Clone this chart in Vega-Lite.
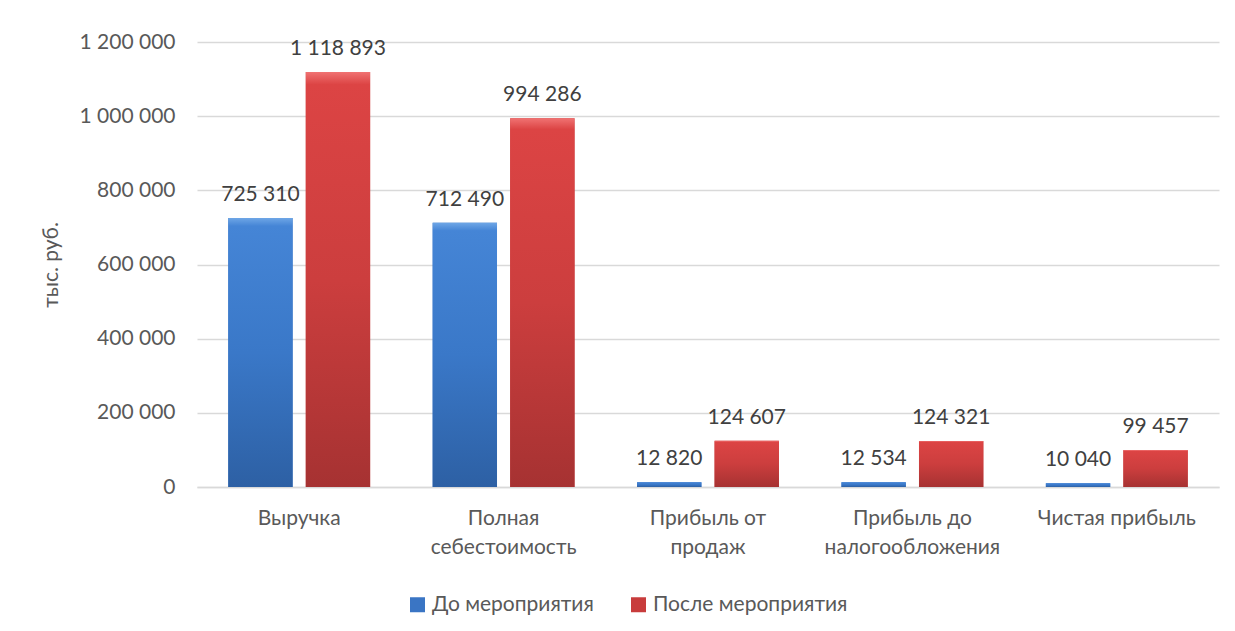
{
  "$schema": "https://vega.github.io/schema/vega-lite/v6.json",
  "width": 1022,
  "height": 445,
  "autosize": {"type": "none"},
  "padding": {"left": 197, "top": 42, "right": 16, "bottom": 144},
  "background": "#ffffff",
  "config": {
    "locale": {"number": {"decimal": ",", "thousands": " ", "grouping": [3], "currency": ["", ""]}},
    "font": "Lato",
    "view": {"stroke": null},
    "axis": {"labelFont": "Lato", "titleFont": "Lato"},
    "legend": {"labelFont": "Lato"}
  },
  "data": {
    "values": [
      {"category": "Выручка", "series": "До мероприятия", "value": 725310},
      {"category": "Выручка", "series": "После мероприятия", "value": 1118893},
      {"category": "Полная себестоимость", "series": "До мероприятия", "value": 712490},
      {"category": "Полная себестоимость", "series": "После мероприятия", "value": 994286},
      {"category": "Прибыль от продаж", "series": "До мероприятия", "value": 12820},
      {"category": "Прибыль от продаж", "series": "После мероприятия", "value": 124607},
      {"category": "Прибыль до налогообложения", "series": "До мероприятия", "value": 12534},
      {"category": "Прибыль до налогообложения", "series": "После мероприятия", "value": 124321},
      {"category": "Чистая прибыль", "series": "До мероприятия", "value": 10040},
      {"category": "Чистая прибыль", "series": "После мероприятия", "value": 99457}
    ]
  },
  "encoding": {
    "x": {
      "field": "category",
      "type": "nominal",
      "sort": null,
      "scale": {"paddingInner": 0.306, "paddingOuter": 0.153},
      "axis": {
        "title": null,
        "labelAngle": 0,
        "labelFontSize": 21,
        "labelColor": "#595959",
        "labelPadding": 20,
        "labelLineHeight": 29,
        "labelLimit": 300,
        "ticks": false,
        "domain": true,
        "domainColor": "#d9d9d9",
        "domainWidth": 1.5,
        "labelExpr": "(datum.label == 'Выручка' || datum.label == 'Чистая прибыль') ? datum.label : [slice(datum.label, 0, lastindexof(datum.label, ' ')), slice(datum.label, lastindexof(datum.label, ' ') + 1)]"
      }
    },
    "xOffset": {
      "field": "series",
      "type": "nominal",
      "sort": ["До мероприятия", "После мероприятия"],
      "scale": {"paddingInner": 0.17}
    },
    "y": {
      "field": "value",
      "type": "quantitative",
      "scale": {"domain": [0, 1200000], "nice": false},
      "axis": {
        "title": "тыс. руб.",
        "titleFontSize": 21,
        "titleFontWeight": "normal",
        "titleColor": "#595959",
        "titlePadding": 17,
        "values": [0, 200000, 400000, 600000, 800000, 1000000, 1200000],
        "format": ",d",
        "labelFontSize": 21,
        "labelColor": "#595959",
        "labelPadding": 22,
        "ticks": false,
        "domain": false,
        "gridColor": "#d9d9d9",
        "gridWidth": 1.5
      }
    }
  },
  "layer": [
    {
      "mark": {"type": "bar"},
      "encoding": {
        "color": {
          "field": "series",
          "type": "nominal",
          "sort": ["До мероприятия", "После мероприятия"],
          "scale": {"domain": ["До мероприятия", "После мероприятия"], "range": ["#3a75c4", "#c83c3c"]},
          "legend": {
            "title": null,
            "orient": "none",
            "direction": "horizontal",
            "legendX": 210,
            "legendY": 552,
            "symbolType": "square",
            "symbolSize": 225,
            "symbolStrokeWidth": 0,
            "symbolOpacity": 1,
            "labelFontSize": 21,
            "labelColor": "#595959",
            "labelOffset": 4,
            "labelLimit": 400,
            "columnPadding": 34,
            "padding": 0
          }
        }
      }
    },
    {
      "mark": {"type": "bar"},
      "encoding": {
        "fill": {
          "condition": {
            "test": "datum.series == 'До мероприятия'",
            "value": {
              "gradient": "linear", "x1": 0, "y1": 0, "x2": 0, "y2": 1,
              "stops": [
                {"offset": 0, "color": "#6ea6e6"},
                {"offset": 0.03, "color": "#4585d6"},
                {"offset": 0.5, "color": "#3a78c8"},
                {"offset": 1, "color": "#2d60a4"}
              ]
            }
          },
          "value": {
            "gradient": "linear", "x1": 0, "y1": 0, "x2": 0, "y2": 1,
            "stops": [
              {"offset": 0, "color": "#f07272"},
              {"offset": 0.03, "color": "#dc4444"},
              {"offset": 0.5, "color": "#cc3e3e"},
              {"offset": 1, "color": "#a63232"}
            ]
          }
        }
      }
    },
    {
      "mark": {"type": "text", "baseline": "alphabetic", "dy": -17, "fontSize": 21, "color": "#404040", "font": "Lato"},
      "encoding": {
        "text": {"field": "value", "type": "quantitative", "format": ",d"}
      }
    }
  ]
}
